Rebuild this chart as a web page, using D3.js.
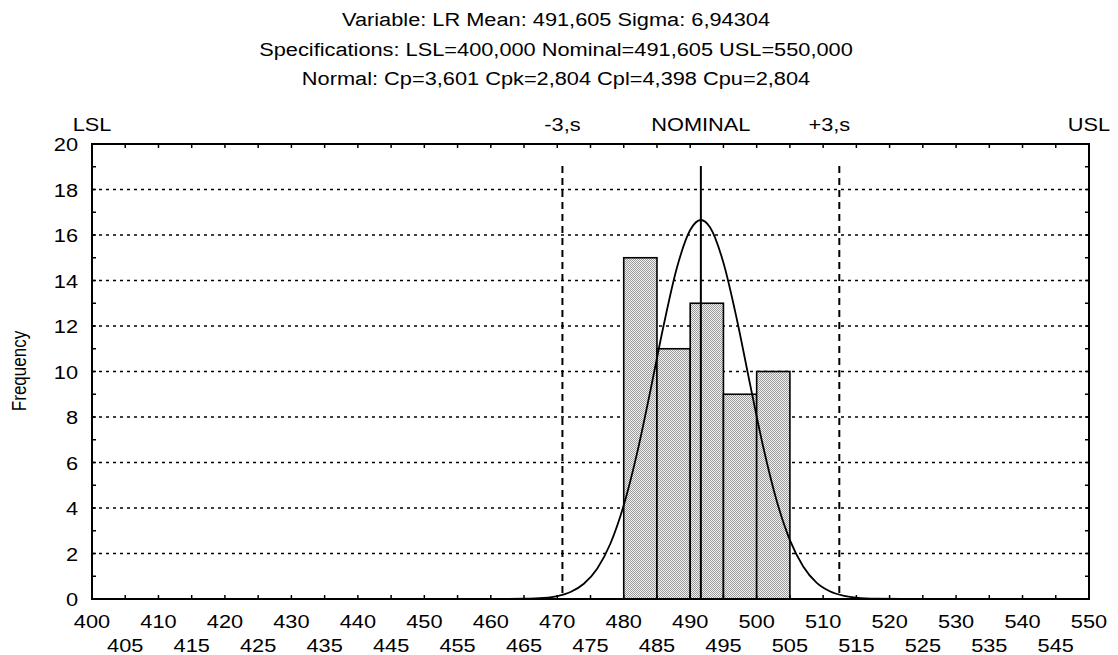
<!DOCTYPE html>
<html><head><meta charset="utf-8">
<script src="https://cdn.jsdelivr.net/npm/d3@7"></script>
<style>body{margin:0;background:#fff}svg{display:block}text{font-family:"Liberation Sans",Arial,sans-serif;fill:#000}</style>
</head><body>
<svg id="c" width="1118" height="655"></svg>
<script>
// ---- data ----
const titleLines = [
  "Variable: LR Mean: 491,605 Sigma: 6,94304",
  "Specifications: LSL=400,000 Nominal=491,605 USL=550,000",
  "Normal: Cp=3,601 Cpk=2,804 Cpl=4,398 Cpu=2,804"
];
const binLo = [480, 485, 490, 495, 500];
const binHi = [485, 490, 495, 500, 505];
const freq  = [15, 11, 13, 9, 10];
// fitted normal curve
const curveX = [400, 455, 460, 465, 468, 470, 472, 474, 476, 478, 480, 482, 484, 486, 488, 490, 491.6, 493, 495, 497, 499, 501, 503, 505, 507, 509, 511, 513, 515, 518, 522, 530, 550];
const curveY = [0, 0, 0.0, 0.01, 0.05, 0.13, 0.31, 0.67, 1.33, 2.44, 4.12, 6.40, 9.14, 12.02, 14.56, 16.22, 16.66, 16.33, 14.78, 12.32, 9.45, 6.67, 4.33, 2.59, 1.43, 0.72, 0.34, 0.15, 0.06, 0.01, 0, 0, 0];
const specLabels = ["LSL", "-3,s", "NOMINAL", "+3,s", "USL"];
const specValues = [400, 470.776, 491.605, 512.434, 550];
const specLabelShift = [0, 0, 0, -10, 0];
const xTicksRow1 = [400,410,420,430,440,450,460,470,480,490,500,510,520,530,540,550];
const xTicksRow2 = [405,415,425,435,445,455,465,475,485,495,505,515,525,535,545];
const yTicks = [0,2,4,6,8,10,12,14,16,18,20];
const yGrid = [2,4,6,8,10,12,14,16,18];
const yLabel = "Frequency";

// ---- layout ----
const L = 92, R = 1089, T = 144, B = 599;
const SX = 1.21, FS = 18;
const svg = d3.select("#c");
const x = d3.scaleLinear().domain([400, 550]).range([L, R]);
const y = d3.scaleLinear().domain([0, 20]).range([B, T]);

function txt(g, s, px, py, anchor, fs) {
  return g.append("text").attr("transform", `translate(${px},${py}) scale(${SX},1)`)
    .attr("text-anchor", anchor || "middle").attr("font-size", fs || FS).text(s);
}

// pattern
const defs = svg.append("defs");
const pat = defs.append("pattern").attr("id", "hatch").attr("patternUnits", "userSpaceOnUse")
  .attr("width", 2).attr("height", 2);
pat.append("rect").attr("width", 2).attr("height", 2).attr("fill", "#f2f2f2");
pat.append("rect").attr("x", 0).attr("y", 0).attr("width", 1).attr("height", 1).attr("fill", "#9a9a9a");
pat.append("rect").attr("x", 1).attr("y", 1).attr("width", 1).attr("height", 1).attr("fill", "#9a9a9a");

// titles
titleLines.forEach((s, i) => txt(svg, s, 556, 26 + i * 29.5, "middle"));

// grid
svg.append("g").selectAll("line").data(yGrid).join("line")
  .attr("x1", L).attr("x2", R).attr("y1", d => y(d)).attr("y2", d => y(d))
  .attr("stroke", "#000").attr("stroke-width", 1.5).attr("stroke-dasharray", "3,4");

// bars
svg.append("g").selectAll("rect").data(freq).join("rect")
  .attr("x", (d, i) => x(binLo[i])).attr("width", (d, i) => x(binHi[i]) - x(binLo[i]))
  .attr("y", d => y(d)).attr("height", d => y(0) - y(d))
  .attr("fill", "url(#hatch)").attr("stroke", "#000").attr("stroke-width", 1.6);

// curve
const pts = curveX.map((v, i) => [v, curveY[i]]);
svg.append("path").datum(pts)
  .attr("d", d3.line().x(d => x(d[0])).y(d => y(d[1])).curve(d3.curveMonotoneX))
  .attr("fill", "none").attr("stroke", "#000").attr("stroke-width", 1.8);

// spec vertical lines (-3s, nominal, +3s)
[1, 2, 3].forEach(i => {
  svg.append("line").attr("x1", x(specValues[i])).attr("x2", x(specValues[i]))
    .attr("y1", 166).attr("y2", B).attr("stroke", "#000").attr("stroke-width", 2)
    .attr("stroke-dasharray", i === 2 ? null : "7,5");
});
// spec labels
specLabels.forEach((s, i) => txt(svg, s, x(specValues[i]) + specLabelShift[i], 131, "middle"));

// frame
svg.append("rect").attr("x", L).attr("y", T).attr("width", R - L).attr("height", B - T)
  .attr("fill", "none").attr("stroke", "#000").attr("stroke-width", 2);

// inward ticks
const xMinor = d3.range(400, 551, 5);
const yMinor = d3.range(0, 21, 1);
const tk = svg.append("g").attr("stroke", "#000").attr("stroke-width", 1.5);
xMinor.forEach(v => {
  tk.append("line").attr("x1", x(v)).attr("x2", x(v)).attr("y1", B).attr("y2", B - 4);
  tk.append("line").attr("x1", x(v)).attr("x2", x(v)).attr("y1", T).attr("y2", T + 4);
});
yMinor.forEach(v => {
  tk.append("line").attr("x1", L).attr("x2", L + 4).attr("y1", y(v)).attr("y2", y(v));
  tk.append("line").attr("x1", R).attr("x2", R - 4).attr("y1", y(v)).attr("y2", y(v));
});

// tick labels
xTicksRow1.forEach(v => txt(svg, String(v), x(v), 628, "middle"));
xTicksRow2.forEach(v => txt(svg, String(v), x(v), 652, "middle"));
yTicks.forEach(v => txt(svg, String(v), 78, y(v) + 7, "end"));

// y label
svg.append("text").attr("transform", `translate(26,371) rotate(-90) scale(1,${SX})`)
  .attr("text-anchor", "middle").attr("font-size", 17).text(yLabel);
</script>
</body></html>
